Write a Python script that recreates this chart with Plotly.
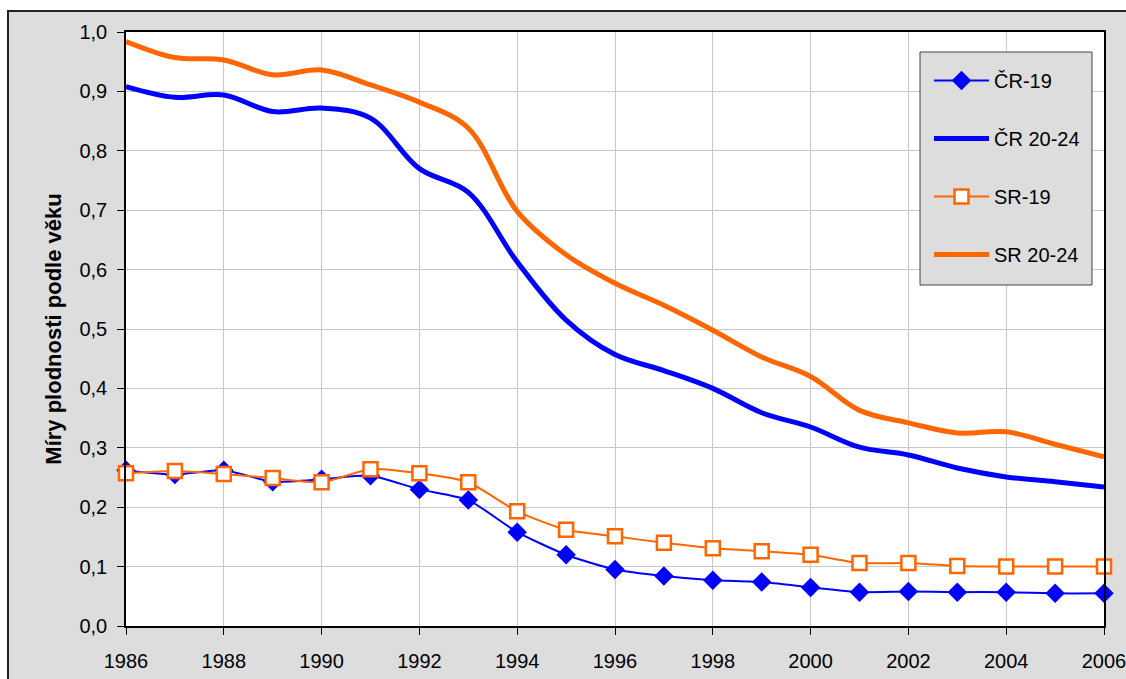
import plotly.graph_objects as go

years = list(range(1986, 2007))
cr19 = [0.262, 0.255, 0.262, 0.243, 0.247, 0.253, 0.230, 0.212, 0.158, 0.120, 0.095,
        0.084, 0.077, 0.074, 0.065, 0.057, 0.058, 0.057, 0.057, 0.055, 0.055]
cr2024 = [0.908, 0.890, 0.894, 0.866, 0.872, 0.855, 0.770, 0.730, 0.613, 0.515, 0.457,
          0.430, 0.400, 0.359, 0.335, 0.301, 0.288, 0.266, 0.251, 0.243, 0.234]
sr19 = [0.257, 0.261, 0.256, 0.249, 0.242, 0.264, 0.257, 0.242, 0.193, 0.162, 0.151,
        0.140, 0.131, 0.126, 0.120, 0.106, 0.106, 0.101, 0.100, 0.100, 0.100]
sr2024 = [0.984, 0.957, 0.953, 0.928, 0.936, 0.911, 0.882, 0.838, 0.698, 0.625, 0.577,
          0.540, 0.498, 0.453, 0.420, 0.363, 0.342, 0.325, 0.327, 0.306, 0.285]

BLUE = "#0000FF"
ORANGE = "#FF6600"
FONT = "Liberation Sans"

fig = go.Figure()
fig.add_trace(go.Scatter(x=years, y=cr19, name="ČR-19", mode="lines+markers",
                         line=dict(color=BLUE, width=2, shape="spline", smoothing=0.6),
                         marker=dict(symbol="diamond", size=15, color=BLUE),
                         cliponaxis=False, legendgroup="a"))
fig.add_trace(go.Scatter(x=years, y=cr2024, name="ČR 20-24", mode="lines",
                         line=dict(color=BLUE, width=5, shape="spline", smoothing=1),
                         cliponaxis=False, legendgroup="b"))
fig.add_trace(go.Scatter(x=years, y=sr19, name="SR-19", mode="lines+markers",
                         line=dict(color=ORANGE, width=2, shape="spline", smoothing=0.6),
                         marker=dict(symbol="square", size=14, color="white",
                                     line=dict(color=ORANGE, width=2.5)),
                         cliponaxis=False, legendgroup="c"))
fig.add_trace(go.Scatter(x=years, y=sr2024, name="SR 20-24", mode="lines",
                         line=dict(color=ORANGE, width=5, shape="spline", smoothing=1),
                         cliponaxis=False, legendgroup="d"))

W, H = 1126, 679
L, R, T, B = 126, 1104, 32, 626
pw, ph = R - L, B - T

def px_x(p):
    return (p - L) / pw

def px_y(p):
    return (B - p) / ph

shapes = [
    dict(type="rect", xref="paper", yref="paper", layer="below",
         x0=px_x(8), x1=px_x(1140), y0=px_y(700), y1=px_y(11),
         fillcolor="#DDDDDD", line=dict(color="#222222", width=2)),
    dict(type="rect", xref="paper", yref="paper", layer="below",
         x0=0, x1=1, y0=0, y1=1, fillcolor="white", line=dict(width=0)),
    # legend box
    dict(type="rect", xref="paper", yref="paper", layer="above",
         x0=px_x(920), x1=px_x(1092), y0=px_y(285), y1=px_y(52),
         fillcolor="#DDDDDD", line=dict(color="#444444", width=1)),
]

fig.update_layout(
    width=W, height=H,
    margin=dict(l=L, r=W - R, t=T, b=H - B, autoexpand=False),
    paper_bgcolor="white", plot_bgcolor="white",
    separators=", ",
    font=dict(family=FONT, size=20, color="black"),
    shapes=shapes,
    showlegend=True,
    legend=dict(x=px_x(929), y=px_y(61), xanchor="left", yanchor="top",
                bgcolor="rgba(0,0,0,0)", borderwidth=0,
                font=dict(family=FONT, size=20), tracegroupgap=29,
                itemwidth=55),
    xaxis=dict(range=[1986, 2006], dtick=2, tick0=1986,
               showgrid=True, gridcolor="#C8C8C8", gridwidth=1,
               showline=True, linecolor="black", linewidth=1.5, mirror=True,
               ticks="outside", ticklen=7, tickcolor="black",
               ticklabelstandoff=9, ticklabeloverflow="allow",
               tickfont=dict(family=FONT, size=20), zeroline=False),
    yaxis=dict(range=[0, 1], dtick=0.1, tickformat=".1f",
               showgrid=True, gridcolor="#C8C8C8", gridwidth=1,
               showline=True, linecolor="black", linewidth=1.5, mirror=True,
               ticks="outside", ticklen=7, tickcolor="black",
               ticklabelstandoff=6,
               tickfont=dict(family=FONT, size=20), zeroline=False,
               title=dict(text="<b>Míry plodnosti podle věku</b>",
                          font=dict(family=FONT, size=22), standoff=12)),
)

fig.write_html("out.html", config={"displayModeBar": False},
               post_script="document.body.style.margin='0';document.body.style.overflow='hidden';")
